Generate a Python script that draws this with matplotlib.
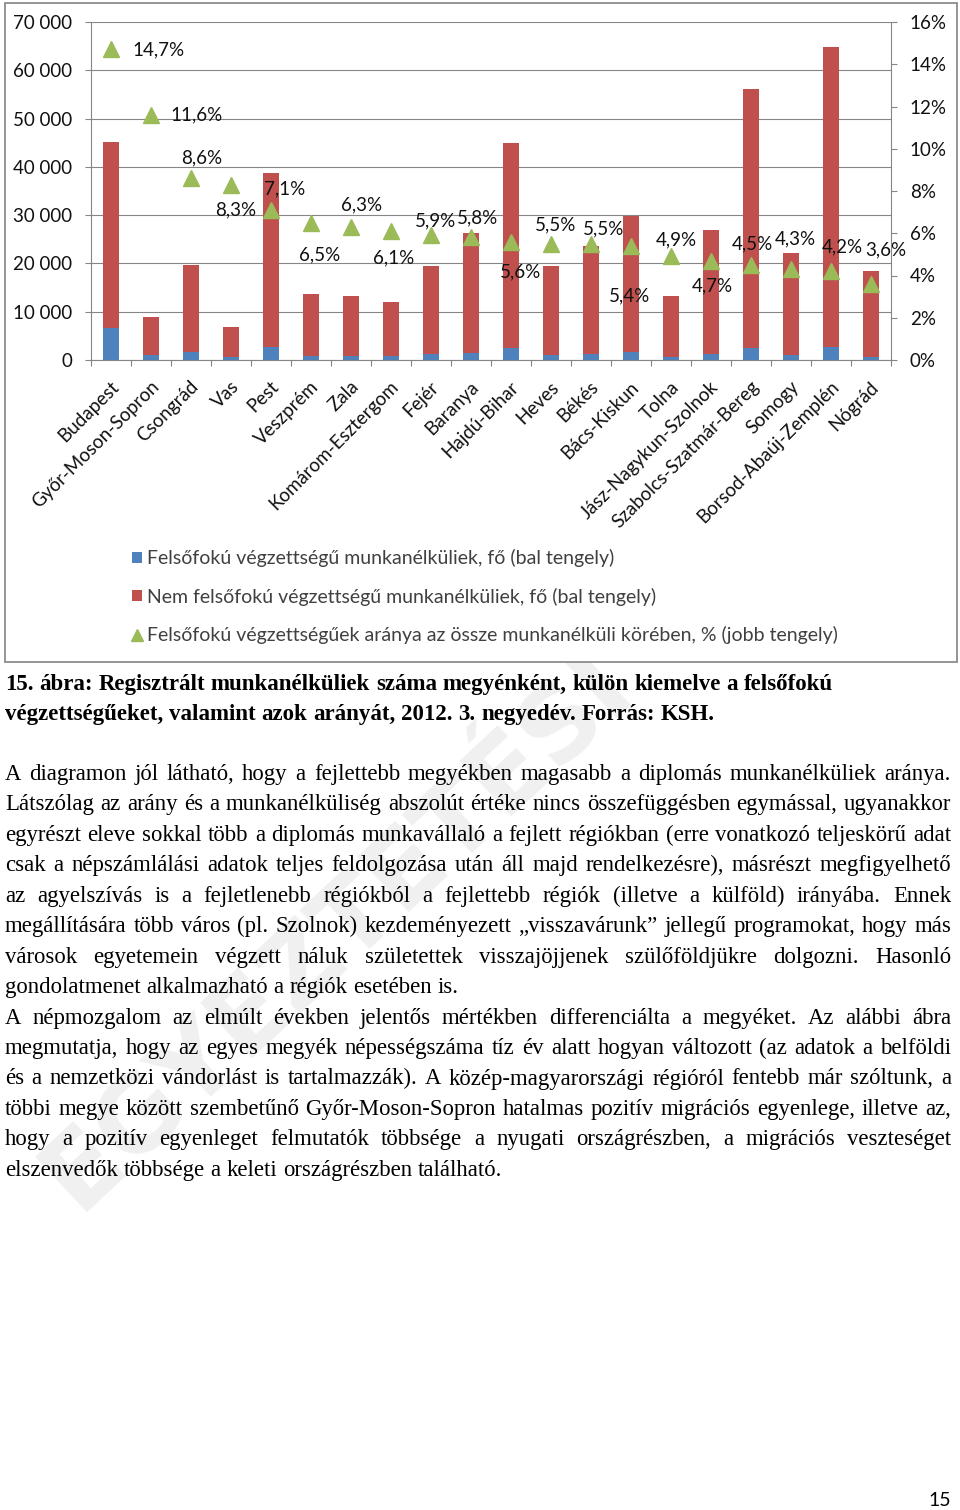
import matplotlib
matplotlib.use("Agg")
import matplotlib.pyplot as plt
import matplotlib.transforms as mtransforms
from matplotlib.lines import Line2D
from matplotlib.patches import Patch, Rectangle
import numpy as np

W, H = 960, 1510

COUNTIES = [
    "Budapest", "Győr-Moson-Sopron", "Csongrád", "Vas", "Pest", "Veszprém",
    "Zala", "Komárom-Esztergom", "Fejér", "Baranya", "Hajdú-Bihar", "Heves",
    "Békés", "Bács-Kiskun", "Tolna", "Jász-Nagykun-Szolnok",
    "Szabolcs-Szatmár-Bereg", "Somogy", "Borsod-Abaúj-Zemplén", "Nógrád",
]
# felsőfokú végzettségű munkanélküliek (fő)
GRADUATE = [6600, 1030, 1700, 580, 2750, 880, 830, 730, 1150, 1530,
            2510, 1070, 1300, 1600, 650, 1270, 2530, 950, 2720, 660]
# nem felsőfokú végzettségű munkanélküliek (fő)
NON_GRADUATE = [38650, 7840, 18050, 6350, 35920, 12700, 12340, 11190, 18250, 24800,
                42390, 18330, 22260, 28130, 12590, 25690, 53670, 21150, 62010, 17700]
# felsőfokúak aránya (%)
SHARE = [14.7, 11.6, 8.6, 8.3, 7.1, 6.5, 6.3, 6.1, 5.9, 5.8,
         5.6, 5.5, 5.5, 5.4, 4.9, 4.7, 4.5, 4.3, 4.2, 3.6]
SHARE_LABELS = ["14,7%", "11,6%", "8,6%", "8,3%", "7,1%", "6,5%", "6,3%", "6,1%",
                "5,9%", "5,8%", "5,6%", "5,5%", "5,5%", "5,4%", "4,9%", "4,7%",
                "4,5%", "4,3%", "4,2%", "3,6%"]

LEFT_TICKS = [0, 10000, 20000, 30000, 40000, 50000, 60000, 70000]
LEFT_TICK_LABELS = ["0", "10 000", "20 000", "30 000", "40 000", "50 000", "60 000", "70 000"]
RIGHT_TICKS = [0, 2, 4, 6, 8, 10, 12, 14, 16]
RIGHT_TICK_LABELS = ["0%", "2%", "4%", "6%", "8%", "10%", "12%", "14%", "16%"]

LEGEND_LABELS = [
    "Felsőfokú végzettségű munkanélküliek, fő (bal tengely)",
    "Nem felsőfokú végzettségű munkanélküliek, fő (bal tengely)",
    "Felsőfokú végzettségűek aránya az össze munkanélküli körében, % (jobb tengely)",
]

CAPTION_LINES = [
    "15. ábra: Regisztrált munkanélküliek száma megyénként, külön kiemelve a felsőfokú",
    "végzettségűeket, valamint azok arányát, 2012. 3. negyedév. Forrás: KSH.",
]

BODY_LINES = [
    "A diagramon jól látható, hogy a fejlettebb megyékben magasabb a diplomás munkanélküliek aránya.",
    "Látszólag az arány és a munkanélküliség abszolút értéke nincs összefüggésben egymással, ugyanakkor",
    "egyrészt eleve sokkal több a diplomás munkavállaló a fejlett régiókban (erre vonatkozó teljeskörű adat",
    "csak a népszámlálási adatok teljes feldolgozása után áll majd rendelkezésre), másrészt megfigyelhető",
    "az agyelszívás is a fejletlenebb régiókból a fejlettebb régiók (illetve a külföld) irányába. Ennek",
    "megállítására több város (pl. Szolnok) kezdeményezett „visszavárunk” jellegű programokat, hogy más",
    "városok egyetemein végzett náluk születettek visszajöjjenek szülőföldjükre dolgozni. Hasonló",
    "gondolatmenet alkalmazható a régiók esetében is.",
    "A népmozgalom az elmúlt években jelentős mértékben differenciálta a megyéket. Az alábbi ábra",
    "megmutatja, hogy az egyes megyék népességszáma tíz év alatt hogyan változott (az adatok a belföldi",
    "és a nemzetközi vándorlást is tartalmazzák). A közép-magyarországi régióról fentebb már szóltunk, a",
    "többi megye között szembetűnő Győr-Moson-Sopron hatalmas pozitív migrációs egyenlege, illetve az,",
    "hogy a pozitív egyenleget felmutatók többsége a nyugati országrészben, a migrációs veszteséget",
    "elszenvedők többsége a keleti országrészben található.",
]
BODY_JUSTIFY = [True, True, True, True, True, True, True, False,
                True, True, True, True, True, False]

# label offsets from marker, in pixels (right, up)
LABEL_OFFSETS = [(47, 0), (46, 0), (11, 20), (5, -25), (14, 21), (9, -32), (11, 22),
                 (3, -27), (5, 14), (7, 20), (10, -30), (5, 19), (13, 15), (-1, -50),
                 (5, 17), (1, -25), (1, 21), (4, 30), (11, 24), (15, 34)]

BLUE = "#4F81BD"
RED = "#C0504D"
GREEN = "#9BBB59"
GRID = "#868686"
INK = "#111111"
SANS = ["Lato", "DejaVu Sans"]
SERIF = ["Liberation Serif", "DejaVu Serif"]

plt.rcParams["font.family"] = SANS


def fx(px):
    return px / W


def fy(py):
    return 1 - py / H


fig = plt.figure(figsize=(W / 100, H / 100), dpi=100)
fig.patch.set_facecolor("white")

# faint watermark behind everything
fig.text(fx(78), fy(1212), "EGYEZTETÉSI", fontsize=74, family=["DejaVu Sans"],
         weight="bold", color="#f0f0f0", rotation=43, rotation_mode="anchor",
         ha="left", va="baseline", zorder=-2)

# chart frame
fig.add_artist(Rectangle((fx(5), fy(662)), fx(952), 659 / H, transform=fig.transFigure,
                         facecolor="white", edgecolor="#8c8c8c", linewidth=1.3, zorder=-1))

ax = fig.add_axes([fx(91), fy(360), fx(800), 338 / H])
ax.set_facecolor("none")
x = np.arange(len(COUNTIES))
ax.bar(x, GRADUATE, width=0.4, color=BLUE, zorder=2)
ax.bar(x, NON_GRADUATE, width=0.4, bottom=GRADUATE, color=RED, zorder=2)
ax.set_xlim(-0.5, len(COUNTIES) - 0.5)
ax.set_ylim(0, 70000)
ax.set_yticks(LEFT_TICKS)
ax.set_yticklabels(LEFT_TICK_LABELS)
ax.yaxis.grid(True, color=GRID, linewidth=0.8)
ax.set_axisbelow(True)
ax.set_xticks(x)
ax.set_xticklabels(COUNTIES, rotation=45, ha="right", va="top", rotation_mode="anchor",
                   fontsize=13.5, color=INK)
ax.set_xticks(np.arange(-0.5, len(COUNTIES)), minor=True)
ax.tick_params(axis="x", which="major", length=0, pad=13)
ax.tick_params(axis="x", which="minor", length=4.5, color=GRID, width=0.8)
ax.tick_params(axis="y", length=4.5, color=GRID, width=0.8, pad=9, labelsize=13.5,
               labelcolor=INK)
shift = mtransforms.ScaledTranslation(-1 / 100, 0, fig.dpi_scale_trans)
for lab in ax.get_xticklabels():
    lab.set_transform(lab.get_transform() + shift)
for side in ["top", "right"]:
    ax.spines[side].set_visible(False)
for side in ["left", "bottom"]:
    ax.spines[side].set_color(GRID)
    ax.spines[side].set_linewidth(0.8)

ax2 = ax.twinx()
ax2.set_ylim(0, 16)
ax2.set_yticks(RIGHT_TICKS)
ax2.set_yticklabels(RIGHT_TICK_LABELS)
ax2.tick_params(axis="y", length=4.5, color=GRID, width=0.8, pad=9, labelsize=13.5,
                labelcolor=INK)
for side in ["top", "left", "bottom"]:
    ax2.spines[side].set_visible(False)
ax2.spines["right"].set_color(GRID)
ax2.spines["right"].set_linewidth(0.8)
ax2.plot(x, SHARE, linestyle="none", marker="^", markersize=12, color=GREEN, zorder=3)
for xi, val, lbl, (dx, dy) in zip(x, SHARE, SHARE_LABELS, LABEL_OFFSETS):
    ax2.annotate(lbl, (xi, val), xytext=(dx * 0.72, dy * 0.72), textcoords="offset points",
                 ha="center", va="center", fontsize=13.5, color=INK)

handles = [
    Patch(facecolor=BLUE, edgecolor="none"),
    Patch(facecolor=RED, edgecolor="none"),
    Line2D([], [], linestyle="none", marker="^", markersize=8, color=GREEN),
]
fig.legend(handles, LEGEND_LABELS, loc="upper left", bbox_to_anchor=(fx(132), fy(549)),
           frameon=False, fontsize=14, handlelength=0.5, handleheight=0.5,
           handletextpad=0.25, labelspacing=1.05, borderaxespad=0, borderpad=0,
           labelcolor="#404040")

# page text
renderer = fig.canvas.get_renderer()
TEXT_LEFT, TEXT_RIGHT = 5, 951


def text_width(s, size, weight="normal"):
    t = fig.text(0, 0, s, fontsize=size, family=SERIF, weight=weight)
    w = t.get_window_extent(renderer).width
    t.remove()
    return w


body_fs = 15 * 498 / text_width(BODY_LINES[-1], 15)
cap_fs = 15 * 828 / text_width(CAPTION_LINES[0], 15, "bold")


def draw_line(s, baseline, size, weight, justify):
    words = s.split(" ")
    arts = [fig.text(0, fy(baseline), wd, fontsize=size, family=SERIF, weight=weight,
                     ha="left", va="baseline", color="black") for wd in words]
    widths = [a.get_window_extent(renderer).width for a in arts]
    if justify and len(words) > 1:
        gap = (TEXT_RIGHT - TEXT_LEFT - sum(widths)) / (len(words) - 1)
    else:
        gap = text_width("x x", size, weight) - text_width("xx", size, weight)
    pos = TEXT_LEFT
    for a, w in zip(arts, widths):
        a.set_x(fx(pos))
        pos += w + gap


for i, line in enumerate(CAPTION_LINES):
    draw_line(line, 690 + 30 * i, cap_fs, "bold", False)
for i, (line, just) in enumerate(zip(BODY_LINES, BODY_JUSTIFY)):
    draw_line(line, 780 + 30.45 * i, body_fs, "normal", just)

fig.text(fx(940), fy(1501), "15", fontsize=14, ha="center", va="center", color="black")

fig.savefig("out.png", dpi=100)
